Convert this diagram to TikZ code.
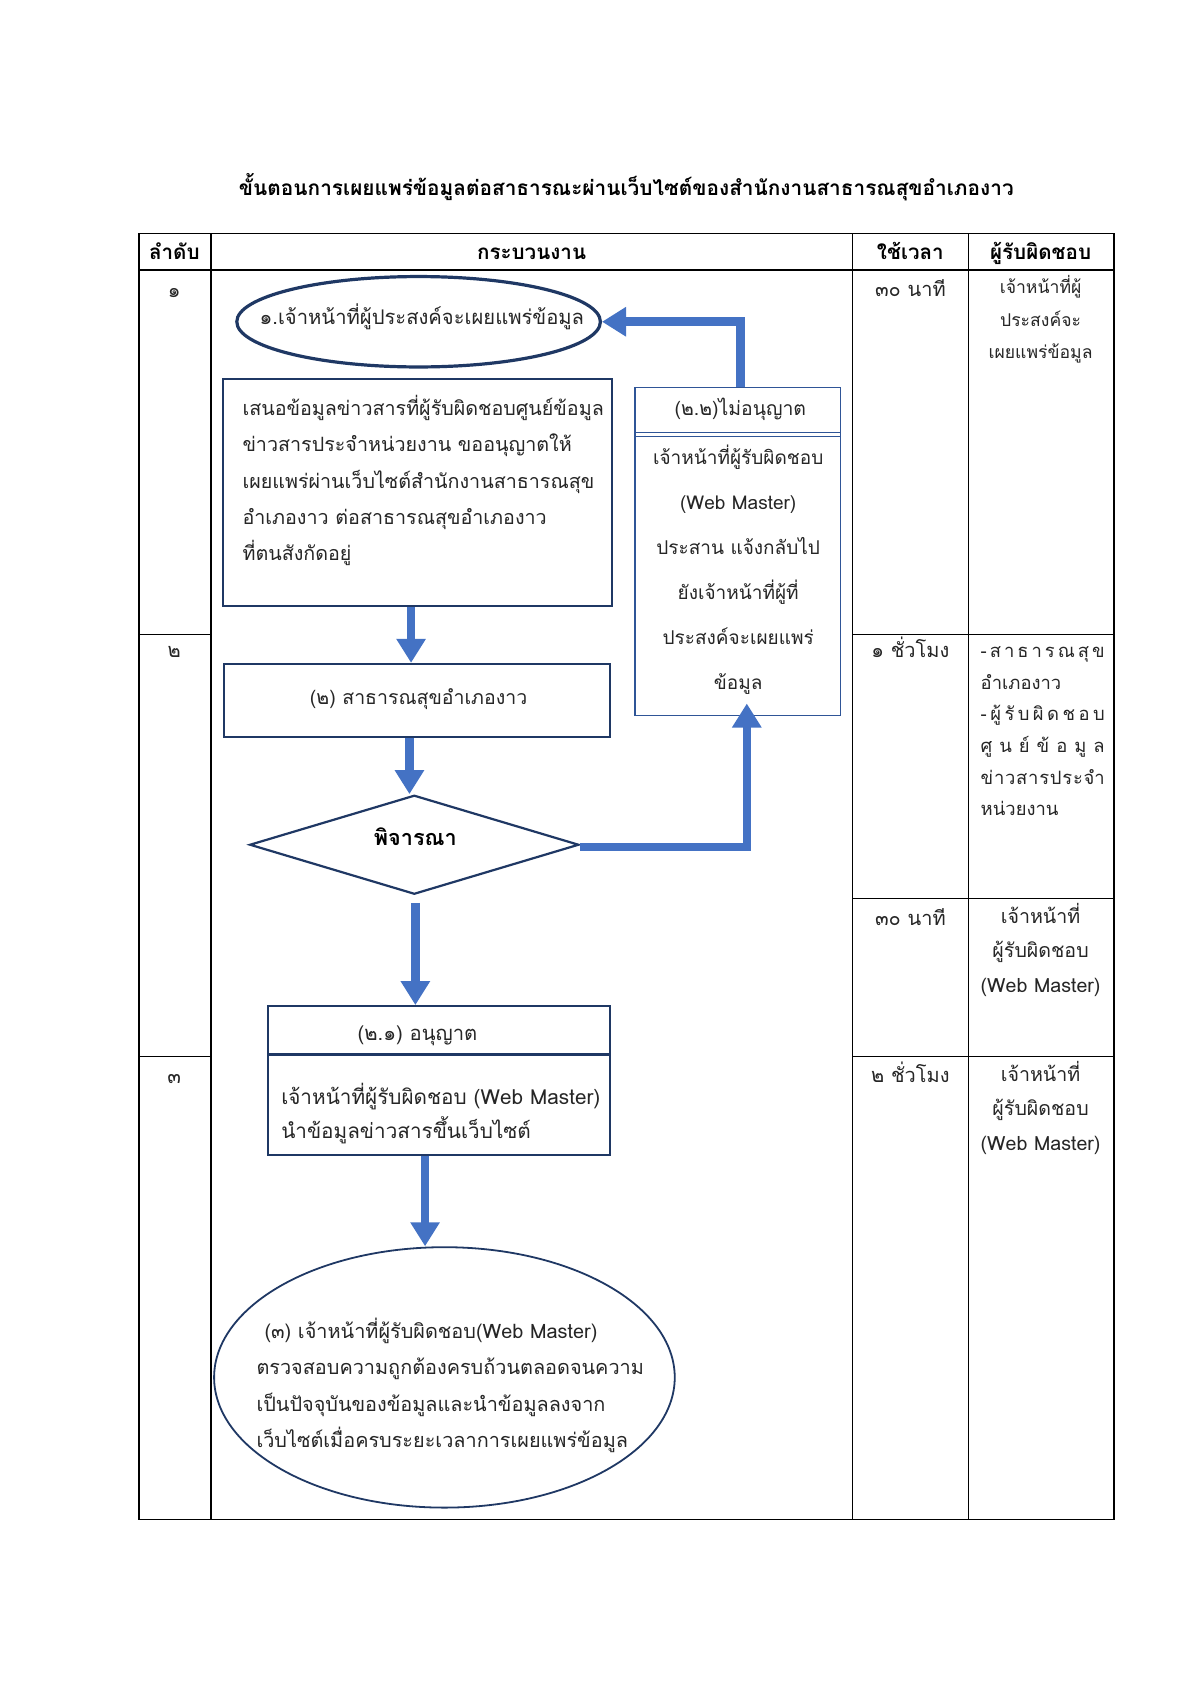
\documentclass[tikz,border=0pt]{standalone}
\usepackage{fontspec}
\setmainfont[Script=Thai]{Loma}
\usetikzlibrary{shapes.geometric,arrows.meta,calc}
\definecolor{navy}{HTML}{1F3864}
\definecolor{abl}{HTML}{4472C4}
\definecolor{dblue}{HTML}{2F5597}
\definecolor{txtc}{HTML}{262626}
\begin{document}
\begin{tikzpicture}[x=0.538pt,y=-0.538pt,
  tx/.style={inner sep=0pt, text=txtc, font=\fontsize{10}{18.3}\selectfont},
  hd/.style={inner sep=0pt, text=black, font=\fontsize{10.3}{14}\selectfont\bfseries, anchor=mid},
  tline/.style={draw=black, line width=0.6pt},
  shp/.style={draw=navy, line width=1.1pt, inner sep=0pt},
  bluearrow/.style={draw=abl, line width=4.3pt, -{Triangle[width=14pt,length=12pt]}}
]
\useasboundingbox (0,0) rectangle (1106,1564);
\fill[white] (0,0) rectangle (1106,1564);

% title
\node[hd, font=\fontsize{10.4}{15}\selectfont\bfseries] (title) at (582,177) {ขั้นตอนการเผยแพร่ข้อมูลต่อสาธารณะผ่านเว็บไซต์ของสำนักงานสาธารณสุขอำเภองาว};

% table
\draw[tline, line width=0.8pt] (129,217) rectangle (1035,1412);
\draw[tline, line width=1.1pt] (129,251) -- (1035,251);
\draw[tline] (196,217) -- (196,1412);
\draw[tline] (792,217) -- (792,1412);
\draw[tline] (900,217) -- (900,1412);
\draw[tline] (129,590) -- (196,590);
\draw[tline] (792,590) -- (1035,590);
\draw[tline] (129,982) -- (196,982);
\draw[tline] (792,982) -- (1035,982);
\draw[tline] (792,835) -- (1035,835);

\node[hd] (h1) at (162,236) {ลำดับ};
\node[hd] (h2) at (494,236) {กระบวนงาน};
\node[hd] (h3) at (846,236) {ใช้เวลา};
\node[hd] (h4) at (967,236) {ผู้รับผิดชอบ};

% order column
\node[tx, anchor=mid] (n1) at (162,272) {๑};
\node[tx, anchor=mid] (n2) at (162,606) {๒};
\node[tx, anchor=mid] (n3) at (162,1002) {๓};

% time column
\node[tx, anchor=mid] (t1) at (846,271) {๓๐ นาที};
\node[tx, anchor=mid] (t2) at (846,606) {๑ ชั่วโมง};
\node[tx, anchor=mid] (t3) at (846,855) {๓๐ นาที};
\node[tx, anchor=mid] (t4) at (846,1001) {๒ ชั่วโมง};

% responsible column (anchor base = last line)
\node[tx, anchor=base, align=center, font=\fontsize{8.8}{16.1}\selectfont] (r1) at (967,333) {เจ้าหน้าที่ผู้\\ประสงค์จะ\\เผยแพร่ข้อมูล};
\node[tx, anchor=base west, align=left, font=\fontsize{9.2}{15.8}\selectfont] (r2) at (911,758)
 {\makebox[62pt][l]{-\hfill ส\hfill า\hfill ธ\hfill า\hfill ร\hfill ณ\hfill สุ\hfill ข}\\
  อำเภองาว\\
  \makebox[62pt][l]{-\hfill ผู้\hfill รั\hfill บ\hfill ผิ\hfill ด\hfill ช\hfill อ\hfill บ}\\
  \makebox[62pt][l]{ศู\hfill น\hfill ย์\hfill ข้\hfill อ\hfill มู\hfill ล}\\
  \makebox[62pt][l]{ข่\hfill า\hfill ว\hfill ส\hfill า\hfill ร\hfill ป\hfill ร\hfill ะ\hfill จำ}\\
  หน่วยงาน};
\node[tx, anchor=base, align=center, font=\fontsize{9.8}{17.2}\selectfont] (r3) at (967,922) {เจ้าหน้าที่\\ผู้รับผิดชอบ\\(Web Master)};
\node[tx, anchor=base, align=center, font=\fontsize{9.8}{17.2}\selectfont] (r4) at (967,1069) {เจ้าหน้าที่\\ผู้รับผิดชอบ\\(Web Master)};

% flowchart shapes
\node[shp, ellipse, line width=1.6pt, minimum width=181.8pt, minimum height=45.2pt] (ell1) at (389,299) {};
\node[tx, anchor=mid, font=\fontsize{10.1}{14}\selectfont] (ell1t) at (392,297) {๑.เจ้าหน้าที่ผู้ประสงค์จะเผยแพร่ข้อมูล};

\node[shp, rectangle, minimum width=194.8pt, minimum height=113.5pt] (boxA) at (388,457.5) {};
\node[tx, anchor=base west, align=left, font=\fontsize{9.85}{18.15}\selectfont] (boxAt) at (225,521)
 {เสนอข้อมูลข่าวสารที่ผู้รับผิดชอบศูนย์ข้อมูล\\ข่าวสารประจำหน่วยงาน ขออนุญาตให้\\ เผยแพร่ผ่านเว็บไซต์สำนักงานสาธารณสุข\\อำเภองาว ต่อสาธารณสุขอำเภองาว\\ที่ตนสังกัดอยู่};

\node[shp, rectangle, minimum width=193.1pt, minimum height=36.6pt] (boxB) at (387.5,651) {};
\node[tx, anchor=mid, font=\fontsize{9.75}{14}\selectfont] (boxBt) at (389,650) {(๒) สาธารณสุขอำเภองาว};

\node[shp, diamond, minimum width=164.6pt, minimum height=49.5pt] (dia) at (385,785) {};
\node[tx, anchor=mid, font=\fontsize{10.8}{14}\selectfont\bfseries, text=black] (diat) at (386,781) {พิจารณา};

\node[shp, rectangle, minimum width=171.1pt, minimum height=74.2pt] (boxC) at (408,1004) {};
\draw[shp] (249,980) -- (567,980);
\node[tx, anchor=mid, font=\fontsize{10.1}{14}\selectfont] (boxCh) at (388,962) {(๒.๑) อนุญาต};
\node[tx, anchor=base west, align=left, font=\fontsize{10.35}{17.2}\selectfont] (boxCt) at (261,1058)
 {เจ้าหน้าที่ผู้รับผิดชอบ (Web Master)\\นำข้อมูลข่าวสารขึ้นเว็บไซต์};

\node[shp, ellipse, line width=0.9pt, minimum width=230.3pt, minimum height=130.2pt] (ell3) at (413,1280) {};
\node[tx, anchor=base west, align=left, font=\fontsize{9.93}{18.1}\selectfont] (ell3t) at (238,1345)
 {\hspace*{4pt}(๓) เจ้าหน้าที่ผู้รับผิดชอบ(Web Master)\\ตรวจสอบความถูกต้องครบถ้วนตลอดจนความ\\เป็นปัจจุบันของข้อมูลและนำข้อมูลลงจาก\\เว็บไซต์เมื่อครบระยะเวลาการเผยแพร่ข้อมูล};

\node[draw=dblue, line width=0.8pt, rectangle, inner sep=0pt, minimum width=102.8pt, minimum height=164.1pt] (boxD) at (685.5,512.5) {};
\draw[draw=dblue, line width=0.6pt] (590,402) -- (781,402) (590,406) -- (781,406);
\node[tx, anchor=mid, font=\fontsize{9.7}{14}\selectfont] (boxDh) at (688,381) {(๒.๒)ไม่อนุญาต};
\node[tx, anchor=base, align=center, font=\fontsize{9.5}{22.5}\selectfont] (boxDt) at (686,641)
 {เจ้าหน้าที่ผู้รับผิดชอบ\\(Web Master)\\ประสาน แจ้งกลับไป\\ยังเจ้าหน้าที่ผู้ที่\\ประสงค์จะเผยแพร่\\ข้อมูล};

% connectors
\coordinate (a1) at ($(boxA.south)+(-6,0)$);
\coordinate (a2) at ($(boxB.south)+(-7,0)$);
\coordinate (a3) at ($(dia.south)+(1,7)$);
\coordinate (a4) at ($(boxC.south)+(-13,0)$);
\coordinate (a5) at ($(dia.east)+(0,2)$);
\coordinate (a5e) at ($(boxD.south)+(8.5,-12)$);
\coordinate (a6) at ($(boxD.north)+(2.5,0)$);
\draw[bluearrow] (a1) -- (a1 |- boxB.north);
\draw[bluearrow] (a2) -- (a2 |- dia.north);
\draw[bluearrow] (a3) -- (a3 |- boxC.north);
\draw[bluearrow] (a4) -- (a4 |- ell3.north);
\draw[bluearrow] (a5) -| (a5e);
\draw[bluearrow] (a6) |- (ell1.east);
\end{tikzpicture}
\end{document}
